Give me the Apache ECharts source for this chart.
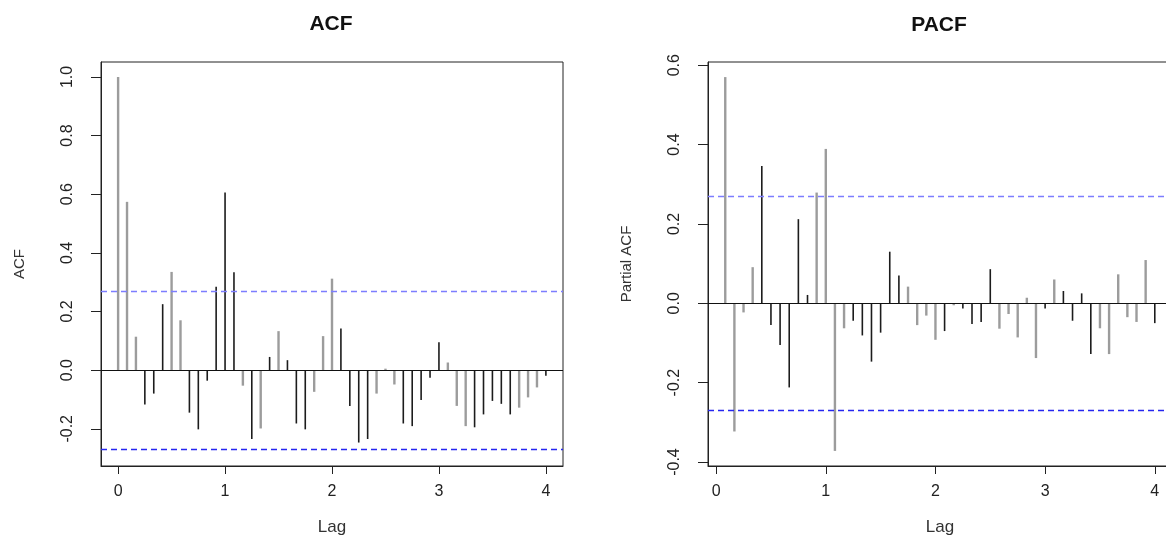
<!DOCTYPE html>
<html>
<head>
<meta charset="utf-8">
<title>ACF / PACF</title>
<script src="https://cdn.jsdelivr.net/npm/echarts@6/dist/echarts.min.js"></script>
<style>
  html, body { margin: 0; padding: 0; background: #fff; }
  #chart { width: 1166px; height: 537px; }
</style>
</head>
<body>
<div id="chart"></div>
<script>
  // lags are in years, 12 observations per year
  const freq = 12;
  const lagTicks = [0, 1, 2, 3, 4];
  const acfTicks = [-0.2, 0, 0.2, 0.4, 0.6, 0.8, 1.0];
  const pacfTicks = [-0.4, -0.2, 0, 0.2, 0.4, 0.6];
  const ciBound = 0.274;

  // acf for lag 0..48
  const acfVals = [
    1.0, 0.574, 0.114, -0.117, -0.080, 0.225, 0.335, 0.170, -0.145, -0.202, -0.036, 0.284,
    0.606, 0.334, -0.053, -0.235, -0.199, 0.045, 0.133, 0.034, -0.182, -0.202, -0.074, 0.116,
    0.312, 0.142, -0.122, -0.247, -0.235, -0.080, 0.005, -0.049, -0.182, -0.191, -0.102, -0.026,
    0.095, 0.026, -0.122, -0.191, -0.195, -0.151, -0.105, -0.115, -0.151, -0.128, -0.093, -0.059,
    -0.019
  ];
  // g = grey stroke, k = black stroke (as they show in the picture)
  const acfTone = 'gggkkkggckkkkkgkgkgkkkggg' + 'kkkkgggkkkkkgggkkkkkgggk';

  // pacf for lag 1..48
  const pacfVals = [
    0.570, -0.323, -0.023, 0.091, 0.346, -0.055, -0.105, -0.212, 0.212, 0.021, 0.279, 0.389,
    -0.372, -0.063, -0.044, -0.081, -0.147, -0.074, 0.130, 0.070, 0.042, -0.055, -0.031, -0.092,
    -0.070, -0.005, -0.013, -0.052, -0.047, 0.086, -0.064, -0.027, -0.086, 0.014, -0.138, -0.013,
    0.060, 0.031, -0.044, 0.025, -0.128, -0.063, -0.128, 0.073, -0.035, -0.047, 0.109, -0.050
  ];
  const pacfTone = 'ggggkkkkkkgggg' + 'kkkkkkggggkgkkkkggggg' + 'kgkkkkggggggk';

  const acfRows = acfVals.map((v, i) => [i / freq, v, acfTone[i] === 'g' ? 0 : 1]);
  const pacfRows = pacfVals.map((v, i) => [(i + 1) / freq, v, pacfTone[i] === 'g' ? 0 : 1]);

  const chart = echarts.init(document.getElementById('chart'));
  const textFont = 'Liberation Sans, Arial, sans-serif';

  function spike(params, api) {
    const base = api.coord([api.value(0), 0]);
    const tip = api.coord([api.value(0), api.value(1)]);
    const grey = api.value(2) === 0;
    return {
      type: 'line',
      shape: { x1: base[0], y1: base[1], x2: tip[0], y2: tip[1] },
      style: { stroke: grey ? '#9c9c9c' : '#1c1c1c', lineWidth: grey ? 2.4 : 1.6 }
    };
  }

  function refLines() {
    return {
      silent: true,
      symbol: 'none',
      label: { show: false },
      data: [
        { yAxis: 0, lineStyle: { color: '#111', width: 1.2, type: 'solid' } },
        { yAxis: ciBound, lineStyle: { color: '#7d7dff', width: 1.4, type: [6, 4] } },
        { yAxis: -ciBound, lineStyle: { color: '#2626f0', width: 1.4, type: [6, 4] } }
      ]
    };
  }

  function xAxisFor(idx, min, max) {
    return {
      gridIndex: idx, type: 'value', min: min, max: max,
      name: 'Lag', nameLocation: 'middle', nameGap: 53,
      nameTextStyle: { fontFamily: textFont, fontSize: 17, color: '#333' },
      axisLine: { show: true, onZero: false, lineStyle: { color: '#222', width: 1 } },
      axisTick: { show: true, customValues: lagTicks, length: 8, lineStyle: { color: '#222' } },
      axisLabel: { customValues: lagTicks, margin: 18, fontFamily: textFont, fontSize: 16, color: '#222' },
      splitLine: { show: false }
    };
  }

  function yAxisFor(idx, min, max, ticks, title, gap) {
    return {
      gridIndex: idx, type: 'value', min: min, max: max,
      name: title, nameLocation: 'middle', nameGap: gap, nameRotate: 90,
      nameTextStyle: { fontFamily: textFont, fontSize: 15, color: '#333' },
      axisLine: { show: true, onZero: false, lineStyle: { color: '#222', width: 1 } },
      axisTick: { show: true, customValues: ticks, length: 10, lineStyle: { color: '#222' } },
      axisLabel: {
        customValues: ticks, rotate: 90, margin: 25,
        fontFamily: textFont, fontSize: 16, color: '#222',
        formatter: v => v.toFixed(1)
      },
      splitLine: { show: false }
    };
  }

  const option = {
    backgroundColor: '#fff',
    animation: false,
    title: [
      { text: 'ACF', left: 326, top: 9, textAlign: 'center',
        textStyle: { fontFamily: textFont, fontSize: 21, fontWeight: 'bold', color: '#111' } },
      { text: 'PACF', left: 934, top: 10, textAlign: 'center',
        textStyle: { fontFamily: textFont, fontSize: 21, fontWeight: 'bold', color: '#111' } }
    ],
    grid: [
      { left: 101, top: 62, width: 462, height: 404, outerBoundsMode: 'none',
        show: true, borderColor: '#222', borderWidth: 1 },
      { left: 708, top: 62, width: 464, height: 404, outerBoundsMode: 'none',
        show: true, borderColor: '#222', borderWidth: 1 }
    ],
    xAxis: [
      xAxisFor(0, -0.16, 4.16),
      xAxisFor(1, -0.074, 4.157)
    ],
    yAxis: [
      yAxisFor(0, -0.327, 1.051, acfTicks, 'ACF', 74),
      yAxisFor(1, -0.41, 0.608, pacfTicks, 'Partial ACF', 74)
    ],
    series: [
      { name: 'ACF', type: 'custom', xAxisIndex: 0, yAxisIndex: 0,
        renderItem: spike, encode: { x: 0, y: 1 }, data: acfRows, markLine: refLines(), z: 3 },
      { name: 'PACF', type: 'custom', xAxisIndex: 1, yAxisIndex: 1,
        renderItem: spike, encode: { x: 0, y: 1 }, data: pacfRows, markLine: refLines(), z: 3 }
    ]
  };

  chart.setOption(option);
</script>
</body>
</html>
